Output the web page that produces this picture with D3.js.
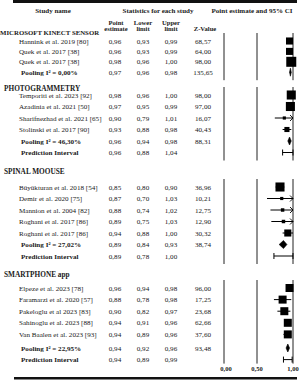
<!DOCTYPE html>
<html>
<head>
<meta charset="utf-8">
<script src="https://cdn.jsdelivr.net/npm/d3@7"></script>
<style>
  body { margin: 0; background: #fff; }
  svg { display: block; }
  text { font-family: "Liberation Serif", "Times New Roman", serif; fill: #1a1a1a; }
</style>
</head>
<body>
<svg id="chart" width="300" height="382"></svg>
<script>
// data
const groups = ["MICROSOFT KINECT SENSOR", "PHOTOGRAMMETRY", "SPINAL MOOUSE", "SMARTPHONE app"];
const groupOf = [0, 0, 0, 0, 1, 1, 1, 1, 1, 1, 2, 2, 2, 2, 2, 2, 2, 3, 3, 3, 3, 3, 3, 3];
const names = [
  "Hannink et al. 2019 [80]", "Quek et al. 2017 [38]", "Quek et al. 2017 [38]", "Pooling I\u00b2 = 0,00%",
  "Temporiti et al. 2023 [92]", "Azadinia et al. 2021 [50]", "Sharifnezhad et al. 2021 [65]", "Stolinski et al. 2017 [90]",
  "Pooling I\u00b2 = 46,30%", "Prediction Interval",
  "B\u00fcy\u00fckturan et al. 2018 [54]", "Demir  et al. 2020 [75]", "Mannion et al. 2004 [82]", "Roghani et al. 2017 [86]",
  "Roghani et al. 2017 [86]", "Pooling I\u00b2 = 27,02%", "Prediction Interval",
  "Elpeze et al. 2023 [78]", "Faramarzi et al. 2020 [57]", "Pakeloglu et al 2023 [83]", "Sahinoglu et al. 2023 [88]",
  "Van Baalen et al. 2023 [93]", "Pooling I\u00b2 =  22,95%", "Prediction Interval"
];
const kinds = [
  "study", "study", "study", "pool",
  "study", "study", "study", "study", "pool", "pred",
  "study", "study", "study", "study", "study", "pool", "pred",
  "study", "study", "study", "study", "study", "pool", "pred"
];
const estimate = [0.96, 0.96, 0.98, 0.97, 0.98, 0.97, 0.90, 0.93, 0.96, 0.96,
  0.85, 0.87, 0.88, 0.89, 0.94, 0.89, 0.89, 0.96, 0.88, 0.90, 0.94, 0.94, 0.94, 0.94];
const lower = [0.93, 0.93, 0.96, 0.96, 0.96, 0.95, 0.79, 0.88, 0.94, 0.88,
  0.80, 0.70, 0.74, 0.75, 0.88, 0.84, 0.78, 0.94, 0.78, 0.82, 0.91, 0.89, 0.92, 0.89];
const upper = [0.99, 0.99, 1.00, 0.98, 1.00, 0.99, 1.01, 0.98, 0.98, 1.04,
  0.90, 1.03, 1.02, 1.03, 1.00, 0.93, 1.00, 0.98, 0.98, 0.97, 0.96, 0.96, 0.96, 0.99];
const zValue = [68.57, 64.00, 98.00, 135.65, 98.00, 97.00, 16.07, 40.43, 88.31, null,
  36.96, 10.21, 12.75, 12.90, 30.32, 38.74, null, 96.00, 17.25, 23.68, 62.66, 37.60, 93.48, null];
// relative study weights
const weight = [25, 25, 50, null, 41, 41, 5, 13, null, null,
  41, 5, 6, 6, 25, null, null, 32, 32, 32, 32, 32, null, null];
const ticks = [0, 0.5, 1];

const svg = d3.select("#chart");
const fmt = d3.formatLocale({ decimal: ",", thousands: ".", grouping: [3], currency: ["", ""] }).format(".2f");

// layout
const headerY = [32, 88, 171, 274];
const firstY = [41, 95, 187, 288];
const pitch = [10.4, 11.5, 11.5, 11.6];
const poolGap = [0, 0, 0, 2];
const colX = { est: 115, lo: 143, hi: 171, z: 203 };

const rows = names.map((name, i) => ({
  name, kind: kinds[i], g: groupOf[i], est: estimate[i], lo: lower[i], hi: upper[i], z: zValue[i], w: weight[i]
}));
groups.forEach((g, gi) => {
  let k = 0, extra = 0;
  rows.forEach(r => {
    if (r.g !== gi) return;
    if (r.kind === "pool") extra = poolGap[gi];
    r.y = firstY[gi] + k * pitch[gi] + extra;
    k++;
  });
});

const x = d3.scaleLinear().domain([0, 0.5, 0.7, 1]).range([224, 257, 267, 293]).clamp(true);
const side = d3.scaleSqrt().domain([0, 50]).range([0, 10]);

// thick rules
svg.append("rect").attr("x", 13).attr("y", 0).attr("width", 284).attr("height", 3).attr("fill", "#111");
svg.append("rect").attr("x", 14).attr("y", 377).attr("width", 283).attr("height", 2.5).attr("fill", "#111");

// headers
const head = svg.append("g").attr("font-weight", "bold").attr("font-size", 7).attr("text-anchor", "middle");
head.append("text").attr("x", 53).attr("y", 12.5).text("Study name");
head.append("text").attr("x", 158).attr("y", 12.5).text("Statistics for each study");
head.append("text").attr("x", 252).attr("y", 12.5).text("Point estimate and 95% CI");

const sub = svg.append("g").attr("font-weight", "bold").attr("font-size", 6.6).attr("text-anchor", "middle");
[["Point", "estimate", colX.est + 1], ["Lower", "limit", colX.lo], ["Upper", "limit", colX.hi]].forEach(([a, b, cx]) => {
  sub.append("text").attr("x", cx).attr("y", 24.5).text(a);
  sub.append("text").attr("x", cx).attr("y", 30.5).text(b);
});
sub.append("text").attr("x", colX.z + 2).attr("y", 30.5).text("Z-Value");

// group titles
svg.append("g").selectAll("text").data(groups).join("text")
  .attr("x", (d, i) => i === 0 ? 0 : 4)
  .attr("y", (d, i) => headerY[i] + 2.5)
  .attr("font-weight", "bold").attr("font-size", (d, i) => i === 0 ? 6.8 : 7.3)
  .text(d => d);

// reference lines per group
const lines = svg.append("g").attr("stroke", "#222").attr("stroke-width", 1);
groups.forEach((g, gi) => {
  const gr = rows.filter(r => r.g === gi);
  const y0 = gr[0].y - 8, y1 = gr[gr.length - 1].y + (gi === 3 ? 4 : 8);
  lines.selectAll(null).data(ticks).join("line")
    .attr("x1", d => x(d)).attr("x2", d => x(d))
    .attr("y1", y0).attr("y2", y1);
});

// text columns
const txt = svg.append("g").attr("font-size", 7.1);
txt.selectAll(".nm").data(rows).join("text")
  .attr("x", d => d.kind === "study" ? 19 : 21)
  .attr("y", d => d.y + 2.5)
  .attr("font-weight", d => d.kind === "study" ? "normal" : "bold")
  .text(d => d.name);
["est", "lo", "hi"].forEach(k => {
  txt.selectAll(null).data(rows).join("text")
    .attr("x", colX[k]).attr("y", d => d.y + 2.5)
    .attr("text-anchor", "middle")
    .text(d => fmt(d[k]));
});
txt.selectAll(null).data(rows.filter(d => d.z != null)).join("text")
  .attr("x", colX.z).attr("y", d => d.y + 2.5)
  .attr("text-anchor", "middle")
  .text(d => fmt(d.z));

// marks
const marks = svg.append("g").attr("fill", "#000").attr("stroke", "#000");
rows.forEach(r => {
  if (r.kind === "study") {
    marks.append("line").attr("stroke-width", 1)
      .attr("x1", x(r.lo)).attr("x2", x(Math.min(r.hi, 1))).attr("y1", r.y).attr("y2", r.y);
    if (r.hi > 1) {
      const ax = x(1);
      marks.append("path").attr("fill", "none").attr("stroke-width", 0.9)
        .attr("d", `M${ax - 3},${r.y - 3}L${ax},${r.y}L${ax - 3},${r.y + 3}`);
    }
    const s = side(r.w);
    marks.append("rect").attr("stroke", "none")
      .attr("x", x(r.est) - s / 2).attr("y", r.y - s / 2).attr("width", s).attr("height", s);
  } else if (r.kind === "pool") {
    marks.append("path").attr("stroke-width", 0.6)
      .attr("d", `M${x(r.lo)},${r.y}L${x(r.est)},${r.y - 4}L${x(r.hi)},${r.y}L${x(r.est)},${r.y + 4}Z`);
  } else {
    const a = x(r.lo), b = x(Math.min(r.hi, 1));
    marks.append("path").attr("fill", "none").attr("stroke-width", 1)
      .attr("d", `M${a},${r.y}L${b},${r.y}M${a},${r.y - 3}L${a},${r.y + 3}M${b},${r.y - 3}L${b},${r.y + 3}`);
  }
});

// axis labels
svg.append("g").selectAll("text").data(ticks).join("text")
  .attr("x", d => x(d) + (d === 0 ? 2 : 0)).attr("y", 371)
  .attr("text-anchor", "middle").attr("font-weight", "bold").attr("font-size", 6.5)
  .text(d => fmt(d));
</script>
</body>
</html>
